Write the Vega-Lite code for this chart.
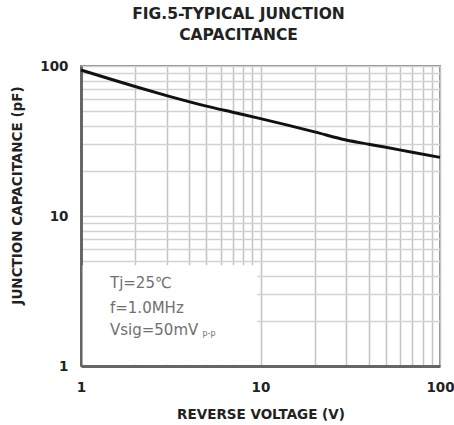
{
  "$schema": "https://vega.github.io/schema/vega-lite/v6.json",
  "autosize": "none",
  "width": 359,
  "height": 300,
  "padding": {"left": 81, "top": 66, "right": 14, "bottom": 59},
  "background": "white",
  "config": {
    "view": {"stroke": "#888", "strokeWidth": 2},
    "font": "DejaVu Sans"
  },
  "title": {
    "text": ["FIG.5-TYPICAL JUNCTION", "CAPACITANCE"],
    "fontSize": 15.5,
    "fontWeight": "bold",
    "color": "#222",
    "lineHeight": 21,
    "offset": 16,
    "dx": -22,
    "anchor": "middle"
  },
  "datasets": {
    "curve": [
      {"v": 1, "c": 94},
      {"v": 1.5, "c": 81},
      {"v": 2, "c": 73},
      {"v": 3, "c": 63.5},
      {"v": 5, "c": 54},
      {"v": 7, "c": 49.2},
      {"v": 10, "c": 44.6},
      {"v": 20, "c": 36.4},
      {"v": 30, "c": 32.1},
      {"v": 40, "c": 30.1},
      {"v": 50, "c": 28.7},
      {"v": 70, "c": 26.6},
      {"v": 100, "c": 24.6}
    ],
    "box": [{"x1": 1.02, "x2": 9.6, "y1": 1.02, "y2": 4.7}],
    "notes": [
      {"x": 1.45, "y": 3.57, "t": "Tj=25℃"},
      {"x": 1.45, "y": 2.44, "t": "f=1.0MHz"},
      {"x": 1.45, "y": 1.74, "t": "Vsig=50mV"}
    ],
    "sub": [{"x": 4.75, "y": 1.64, "t": "p-p"}]
  },
  "layer": [
    {
      "data": {"name": "curve"},
      "mark": {"type": "line", "opacity": 0},
      "encoding": {
        "x": {
          "field": "v", "type": "quantitative",
          "scale": {"type": "log", "domain": [1, 100]},
          "axis": {
            "values": [1,2,3,4,5,6,7,8,9,10,20,30,40,50,60,70,80,90,100],
            "labelExpr": "indexof([1,10,100], datum.value) >= 0 ? datum.label : ''",
            "grid": true, "gridColor": "#c4c4c4", "gridWidth": 1.5,
            "ticks": false,
            "domainColor": "#666", "domainWidth": 3,
            "labelFontSize": 13.5, "labelFontWeight": "bold", "labelColor": "#222",
            "labelPadding": 14, "labelFlush": false,
            "title": "REVERSE VOLTAGE (V)",
            "titleFontSize": 13.5, "titleFontWeight": "bold", "titleColor": "#222",
            "titlePadding": 14
          }
        },
        "y": {
          "field": "c", "type": "quantitative",
          "scale": {"type": "log", "domain": [1, 100]},
          "axis": {
            "values": [1,2,3,4,5,6,7,8,9,10,20,30,40,50,60,70,80,90,100],
            "labelExpr": "indexof([1,10,100], datum.value) >= 0 ? datum.label : ''",
            "grid": true, "gridColor": "#d2d2d2", "gridWidth": 1.5,
            "ticks": false,
            "domainColor": "#666", "domainWidth": 3,
            "labelFontSize": 13.5, "labelFontWeight": "bold", "labelColor": "#222",
            "labelPadding": 13, "labelFlush": false,
            "title": "JUNCTION CAPACITANCE (pF)",
            "titleFontSize": 13.5, "titleFontWeight": "bold", "titleColor": "#222",
            "titleX": -64, "titleY": 129, "titleAlign": "center", "titleBaseline": "middle", "titleAngle": 270
          }
        }
      }
    },
    {
      "data": {"name": "box"},
      "mark": {"type": "rect", "fill": "white", "stroke": null},
      "encoding": {
        "x": {"field": "x1", "type": "quantitative"},
        "x2": {"field": "x2"},
        "y": {"field": "y1", "type": "quantitative"},
        "y2": {"field": "y2"}
      }
    },
    {
      "data": {"name": "curve"},
      "mark": {"type": "line", "color": "#111", "strokeWidth": 3, "interpolate": "monotone"},
      "encoding": {
        "x": {"field": "v", "type": "quantitative"},
        "y": {"field": "c", "type": "quantitative"}
      }
    },
    {
      "data": {"name": "notes"},
      "mark": {"type": "text", "align": "left", "baseline": "middle", "fontSize": 15, "color": "#707070"},
      "encoding": {
        "x": {"field": "x", "type": "quantitative"},
        "y": {"field": "y", "type": "quantitative"},
        "text": {"field": "t"}
      }
    },
    {
      "data": {"name": "sub"},
      "mark": {"type": "text", "align": "left", "baseline": "middle", "fontSize": 8, "color": "#707070"},
      "encoding": {
        "x": {"field": "x", "type": "quantitative"},
        "y": {"field": "y", "type": "quantitative"},
        "text": {"field": "t"}
      }
    }
  ]
}
